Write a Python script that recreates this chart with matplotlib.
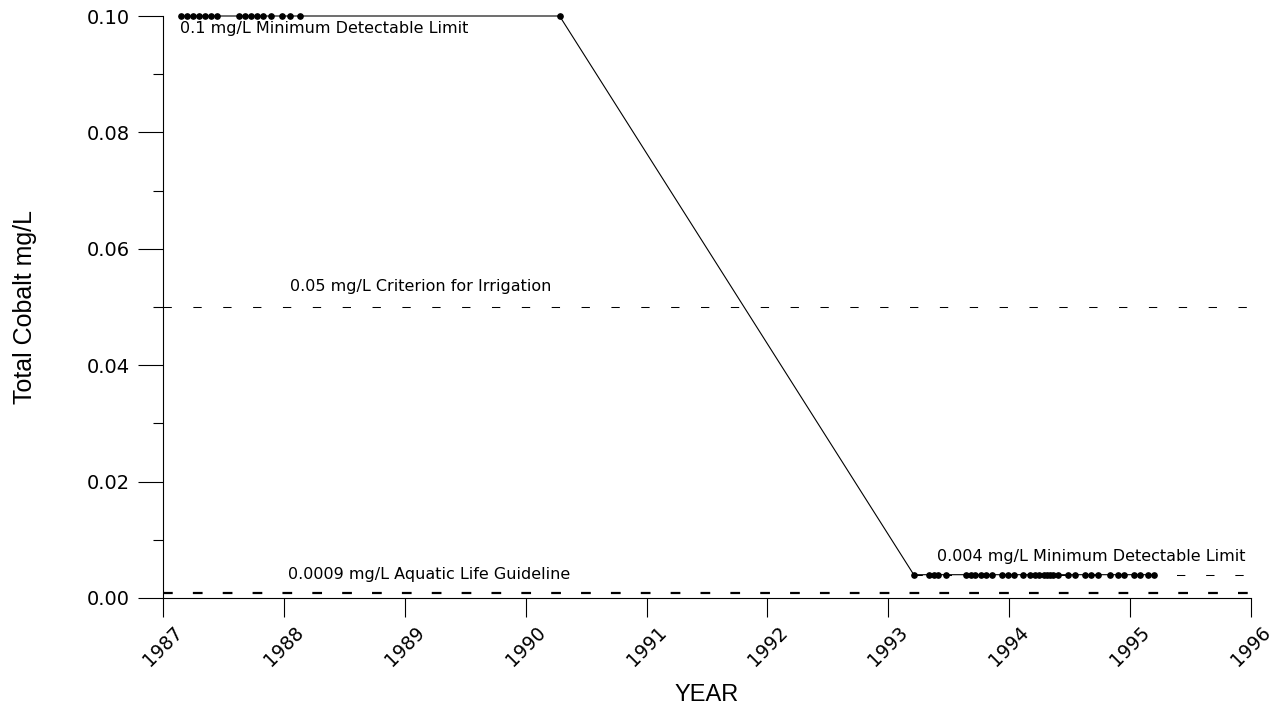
import matplotlib
matplotlib.use("Agg")
import matplotlib.pyplot as plt
from matplotlib.ticker import MultipleLocator

# sampling dates (decimal year) and total cobalt (mg/L)
years = [1987.15, 1987.20, 1987.25, 1987.30, 1987.35, 1987.40, 1987.45,
         1987.63, 1987.68, 1987.73, 1987.78, 1987.83, 1987.89, 1987.98,
         1988.05, 1988.13, 1990.28,
         1993.21, 1993.34, 1993.38, 1993.41, 1993.48, 1993.64, 1993.68,
         1993.72, 1993.77, 1993.81, 1993.86, 1993.94, 1993.99, 1994.04,
         1994.11, 1994.17, 1994.21, 1994.25, 1994.29, 1994.31, 1994.34,
         1994.36, 1994.40, 1994.49, 1994.54, 1994.63, 1994.68, 1994.73,
         1994.83, 1994.90, 1994.95, 1995.03, 1995.08, 1995.15, 1995.20]
cobalt = [0.1] * 17 + [0.004] * 35

# guideline levels
irrigation = 0.05
aquatic = 0.0009
mdl_low = 0.004
mdl_low_start = 1993.21

x_ticks = list(range(1987, 1997))

plt.rcParams["lines.scale_dashes"] = False
plt.rcParams["font.family"] = "DejaVu Sans"

fig = plt.figure(figsize=(12.88, 7.08), dpi=100)
ax = fig.add_axes([0.1266, 0.1554, 0.8447, 0.822])

# dashed reference lines
ax.plot([1987, 1996], [irrigation, irrigation], color="black", lw=0.75,
        dashes=(6, 15.5))
ax.plot([1987, 1996], [aquatic, aquatic], color="black", lw=1.6,
        dashes=(7, 14.5))
ax.plot([mdl_low_start, 1996], [mdl_low, mdl_low], color="black", lw=0.75,
        dashes=(6, 15))

# measurements
ax.plot(years, cobalt, color="black", lw=0.8, marker="o", markersize=3.8,
        clip_on=False, zorder=3)

# labels on the lines
ax.text(1987.14, 0.0979, "0.1 mg/L Minimum Detectable Limit", fontsize=11.5, va="center")
ax.text(1988.05, 0.0536, "0.05 mg/L Criterion for Irrigation", fontsize=11.5, va="center")
ax.text(1988.03, 0.0040, "0.0009 mg/L Aquatic Life Guideline", fontsize=11.5, va="center")
ax.text(1993.40, 0.0072, "0.004 mg/L Minimum Detectable Limit", fontsize=11.5, va="center")

# axes
ax.set_xlim(1987, 1996)
ax.set_ylim(0, 0.10)
ax.set_xticks(x_ticks)
ax.set_xticklabels([str(y) for y in x_ticks], rotation=45, fontsize=13.5)
ax.set_yticks([0.0, 0.02, 0.04, 0.06, 0.08, 0.10])
ax.yaxis.set_minor_locator(MultipleLocator(0.01))
ax.set_yticklabels(["0.00", "0.02", "0.04", "0.06", "0.08", "0.10"], fontsize=14)
ax.tick_params(axis="y", which="major", length=18, width=0.8, pad=6)
ax.tick_params(axis="y", which="minor", length=7.2, width=0.8)
ax.tick_params(axis="x", which="major", length=13.7, width=0.8, pad=4)

for side in ["top", "right"]:
    ax.spines[side].set_visible(False)
for side in ["left", "bottom"]:
    ax.spines[side].set_linewidth(0.8)

ax.set_ylabel("Total Cobalt mg/L", family="Liberation Sans", fontsize=18, labelpad=36)
ax.set_xlabel("YEAR", family="Liberation Sans", fontsize=17, labelpad=10)

fig.savefig("out.png", dpi=100)
